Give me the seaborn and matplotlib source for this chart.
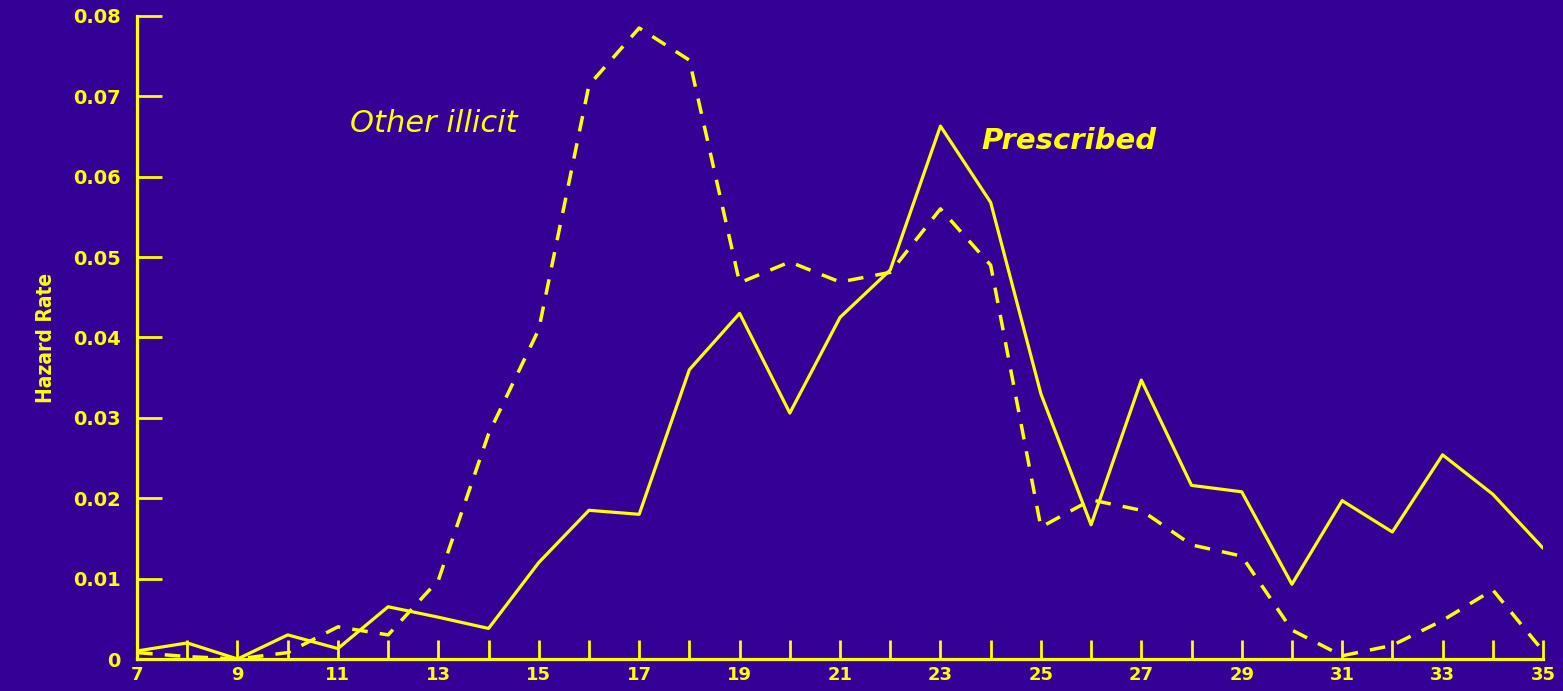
"""Hazard rate by age: prescribed vs other illicit drug initiation."""
import numpy as np
import pandas as pd
import matplotlib
matplotlib.use("Agg")
import matplotlib.pyplot as plt
import seaborn as sns
from matplotlib.ticker import MultipleLocator

BG = "#340096"
INK = "#ffff00"

ages = list(range(7, 36))
prescribed = [0.001, 0.002, 0.0, 0.003, 0.0013, 0.0065, 0.0052, 0.0038, 0.012,
              0.0185, 0.018, 0.036, 0.043, 0.0306, 0.0425, 0.0484, 0.0663, 0.0568,
              0.033, 0.0167, 0.0347, 0.0216, 0.0208, 0.0093, 0.0197, 0.0158,
              0.0254, 0.0205, 0.0138]
other_illicit = [0.0008, 0.0003, 0.0, 0.0008, 0.004, 0.003, 0.0098, 0.028, 0.041,
                 0.0714, 0.0785, 0.0745, 0.0468, 0.0494, 0.0469, 0.0481, 0.056,
                 0.049, 0.0164, 0.0198, 0.0185, 0.0142, 0.0128, 0.0036, 0.0004,
                 0.0017, 0.0048, 0.0086, 0.001]
x_labels = list(range(7, 36, 2))
y_ticks = [0, 0.01, 0.02, 0.03, 0.04, 0.05, 0.06, 0.07, 0.08]

df = pd.DataFrame({"age": ages, "Prescribed": prescribed, "Other illicit": other_illicit})

sns.set_style("white")
plt.rcParams["font.family"] = ["DejaVu Sans"]

fig = plt.figure(figsize=(15.63, 6.91), dpi=100, facecolor=BG)
ax = fig.add_axes([0.0877, 0.0463, 0.8995, 0.9306])
ax.set_facecolor(BG)

sns.lineplot(data=df, x="age", y="Prescribed", ax=ax, color=INK, lw=2.3)
sns.lineplot(data=df, x="age", y="Other illicit", ax=ax, color=INK, lw=2.5,
             linestyle=(0, (4.5, 3.5)))

ax.set_xlim(7, 35)
ax.set_ylim(0, 0.08)
ax.set_xticks(x_labels)
ax.xaxis.set_minor_locator(MultipleLocator(1))
ax.set_yticks(y_ticks)
ax.set_yticklabels(["0" if v == 0 else f"{v:.2f}" for v in y_ticks])

for s in ["top", "right"]:
    ax.spines[s].set_visible(False)
for s in ["left", "bottom"]:
    ax.spines[s].set_color(INK)
    ax.spines[s].set_linewidth(2.3)

ax.tick_params(axis="y", which="major", direction="in", length=18, width=2,
               left=True, color=INK, labelcolor=INK, labelsize=14, pad=12)
ax.tick_params(axis="x", which="both", direction="in", length=14, width=2,
               bottom=True, color=INK, labelcolor=INK, labelsize=13, pad=5)
for lab in ax.get_xticklabels() + ax.get_yticklabels():
    lab.set_fontweight("bold")

ax.set_xlabel("")
ax.set_ylabel("Hazard Rate", color=INK, fontsize=15, fontweight="bold",
              fontstretch="condensed", labelpad=12)

ax.text(12.9, 0.0666, "Other illicit", color=INK, fontsize=22, style="italic",
        ha="center", va="center")
ax.text(25.55, 0.0645, "Prescribed", color=INK, fontsize=21, style="italic",
        fontweight="bold", ha="center", va="center")

fig.savefig("out.png", dpi=100, facecolor=BG)
